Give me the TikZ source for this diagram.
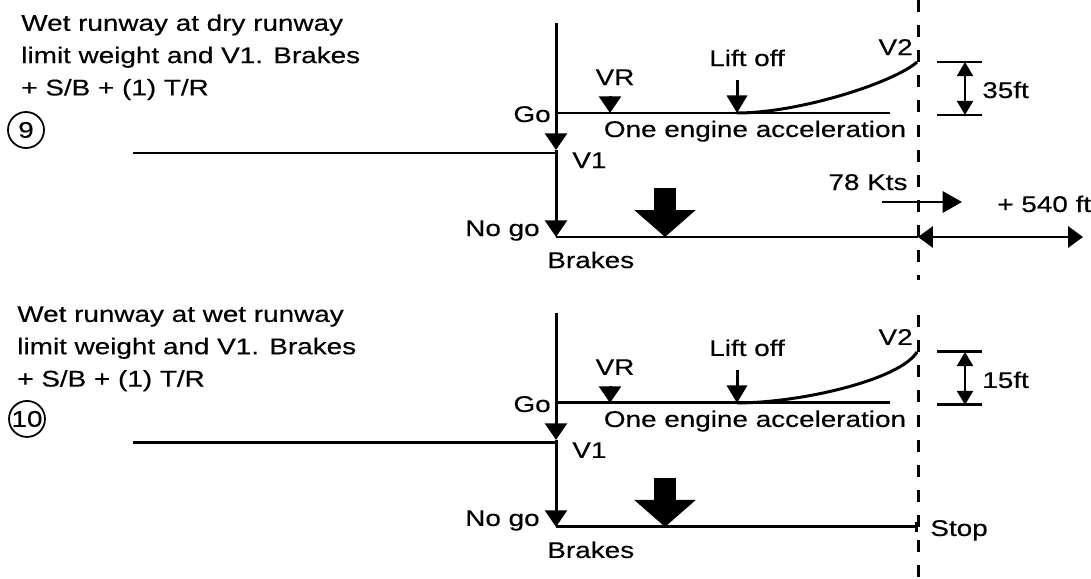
\documentclass[tikz,border=0pt]{standalone}
\usepackage{fontspec}
\setmainfont[FakeStretch=1.23, FakeBold=0.4]{Liberation Sans}
\usetikzlibrary{arrows.meta, positioning}
\tikzset{
  lbl/.style={inner sep=0pt, font=\fontsize{12.9}{18.4}\selectfont},
  num/.style={lbl, draw, circle, line width=1pt, minimum size=0.72cm},
  track/.style={line width=1.7pt},
  tri/.style={track, -{Triangle[width=12.5pt,length=9.5pt]}},
  tick/.style={track, -{Triangle[width=11.5pt,length=10pt]}},
  dim/.style={line width=1.5pt, {Triangle[width=9pt,length=8pt]}-{Triangle[width=9pt,length=8pt]}},
  gain/.style={track, -{Triangle[width=12pt,length=11pt]}},
  over/.style={track, {Triangle[width=12pt,length=8.5pt]}-{Triangle[width=12pt,length=8.5pt]}},
  limit/.style={line width=1.7pt, dash pattern=on 0.24cm off 0.26cm},
  brake/.style={line width=0.44cm, -{Triangle[width=1.2cm,length=0.54cm]}},
}

\begin{document}
\begin{tikzpicture}[x=0.02cm, y=-0.02cm]
  \useasboundingbox (0,0) rectangle (1091,578);

  % case 9: wet runway, dry runway limit weight
  \node[lbl, align=left, anchor=north west] (case9) at (21,14)
    {Wet runway at dry runway\\limit weight and V1. Brakes\\+ S/B + (1) T/R};
  \node[num] (n9) at (26,130) {9};
  \coordinate (top9) at (556,23);
  \coordinate (go9) at (556,113);
  \coordinate (v19) at (556,150);
  \coordinate (nogo9) at (556,237);
  \coordinate (roll9) at (133,153);
  \coordinate (goend9) at (890,113);
  \coordinate (vrtop9) at (610,96);
  \coordinate (vr9) at (610,113);
  \coordinate (lifttop9) at (737,80);
  \coordinate (lift9) at (737,113);
  \coordinate (v29) at (917,62);
  \coordinate (stop9) at (918,237);
  \coordinate (end9) at (1083,237);
  \coordinate (kts9a) at (882,202);
  \coordinate (kts9b) at (962,202);
  \draw[limit] (918,0) -- (918,280);
  \draw[track] (roll9) -- (roll9 -| go9);
  \draw[track] (top9) -- (go9) -- (goend9);
  \draw[tri] (go9) -- (v19);
  \draw[tri] (v19) -- (nogo9);
  \draw[track] (nogo9) -- (stop9);
  \draw[over] (stop9) -- (end9);
  \draw[tri] (vrtop9) -- (vr9);
  \draw[tick] (lifttop9) -- (lift9);
  \draw[track] (lift9) .. controls (800,113) and (895,82) .. (v29);
  \draw[brake] (665,188) -- (665,237);
  \draw[gain] (kts9a) -- (kts9b);
  \draw[track] (937,62) -- (982,62) (937,115) -- (982,115);
  \draw[dim] (965,62) -- (965,115);
  \node[lbl, anchor=base east] (golbl9) at (551,122) {Go};
  \node[lbl, anchor=base] (vrlbl9) at (615,85) {VR};
  \node[lbl, anchor=base] (liftlbl9) at (747,66) {Lift off};
  \node[lbl, anchor=base east] (v2lbl9) at (913,55) {V2};
  \node[lbl, anchor=base] (acc9) at (755,137) {One engine acceleration};
  \node[lbl, anchor=base west] (v1lbl9) at (572,168) {V1};
  \node[lbl, anchor=base east] (nogolbl9) at (540,236) {No go};
  \node[lbl, anchor=base west] (brk9) at (547,268) {Brakes};
  \node[lbl, anchor=base west] (ht9) at (982,98) {35ft};
  \node[lbl, anchor=base] (kts9) at (868,190) {78 Kts};
  \node[lbl, anchor=base west] (extra9) at (997,212) {+ 540 ft};

  % case 10: wet runway, wet runway limit weight
  \begin{scope}[yshift=-5.8cm]
  \node[lbl, align=left, anchor=north west] (case10) at (17,16)
    {Wet runway at wet runway\\limit weight and V1. Brakes\\+ S/B + (1) T/R};
  \node[num] (n10) at (27,129) {10};
  \coordinate (top10) at (556,23);
  \coordinate (go10) at (556,113);
  \coordinate (v110) at (556,150);
  \coordinate (nogo10) at (556,237);
  \coordinate (roll10) at (133,153);
  \coordinate (goend10) at (890,113);
  \coordinate (vrtop10) at (610,96);
  \coordinate (vr10) at (610,113);
  \coordinate (lifttop10) at (737,80);
  \coordinate (lift10) at (737,113);
  \coordinate (v210) at (917,62);
  \coordinate (stop10) at (918,237);
  \draw[limit] (918,25) -- (918,288);
  \draw[track] (roll10) -- (roll10 -| go10);
  \draw[track] (top10) -- (go10) -- (goend10);
  \draw[tri] (go10) -- (v110);
  \draw[tri] (v110) -- (nogo10);
  \draw[track, -{Bar[width=6pt]}] (nogo10) -- (stop10);
  \draw[tri] (vrtop10) -- (vr10);
  \draw[tick] (lifttop10) -- (lift10);
  \draw[track] (lift10) .. controls (800,113) and (900,90) .. (v210);
  \draw[brake] (665,188) -- (665,237);
  \draw[track] (937,62) -- (982,62) (937,115) -- (982,115);
  \draw[dim] (965,62) -- (965,115);
  \node[lbl, anchor=base east] (golbl10) at (551,122) {Go};
  \node[lbl, anchor=base] (vrlbl10) at (615,85) {VR};
  \node[lbl, anchor=base] (liftlbl10) at (747,66) {Lift off};
  \node[lbl, anchor=base east] (v2lbl10) at (913,55) {V2};
  \node[lbl, anchor=base] (acc10) at (755,137) {One engine acceleration};
  \node[lbl, anchor=base west] (v1lbl10) at (572,168) {V1};
  \node[lbl, anchor=base east] (nogolbl10) at (540,236) {No go};
  \node[lbl, anchor=base west] (brk10) at (547,268) {Brakes};
  \node[lbl, anchor=base west] (ht10) at (982,98) {15ft};
  \node[lbl, anchor=base west] (stoplbl10) at (930,246) {Stop};
  \end{scope}
\end{tikzpicture}
\end{document}
